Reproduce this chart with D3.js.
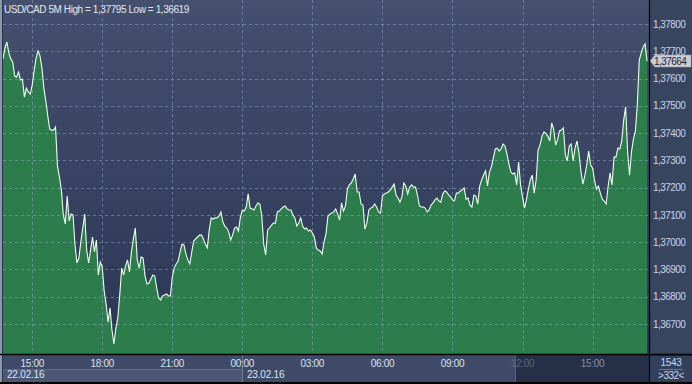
<!DOCTYPE html>
<html><head><meta charset="utf-8">
<script src="https://cdn.jsdelivr.net/npm/d3@7"></script>
<style>
body{margin:0;background:#000;}
svg{display:block;font-family:"Liberation Sans",Arial,sans-serif;}
</style>
</head><body>
<svg id="c" width="692" height="384"></svg>
<script>
// ---------- data ----------
const symbolLabel = "USD/CAD 5M";
const highLabel = "1,37795";
const lowLabel = "1,36619";
const startTime = "2016-02-22T13:45:00";
const barMinutes = 5;
const prices = [
1.37672,1.37712,1.37734,1.37694,1.37672,1.37661,1.37609,1.37606,1.37624,1.37595,
1.37598,1.37532,1.37565,1.37551,1.37543,1.37576,1.37628,1.37675,1.37701,1.37683,
1.37639,1.37565,1.37518,1.37463,1.37415,1.37411,1.37411,1.37422,1.37279,1.37239,
1.37191,1.37100,1.37067,1.37169,1.37078,1.37103,1.37100,1.36990,1.36924,1.36942,
1.37001,1.37052,1.37103,1.36971,1.36924,1.36971,1.37019,1.36964,1.37008,1.36880,
1.36927,1.36909,1.36821,1.36773,1.36707,1.36759,1.36678,1.36627,1.36685,1.36722,
1.36806,1.36905,1.36880,1.36913,1.36935,1.36891,1.36964,1.37012,1.37052,1.36935,
1.36905,1.36946,1.36942,1.36876,1.36847,1.36850,1.36865,1.36880,1.36876,1.36832,
1.36795,1.36788,1.36803,1.36806,1.36810,1.36803,1.36803,1.36872,1.36905,1.36920,
1.36931,1.36964,1.36993,1.36990,1.36957,1.36935,1.36920,1.36964,1.37004,1.37012,
1.37019,1.37026,1.37026,1.37012,1.36993,1.36979,1.37045,1.37089,1.37085,1.37089,
1.37089,1.37096,1.37111,1.37074,1.37059,1.37052,1.37037,1.37008,1.37026,1.37052,
1.37056,1.37041,1.37092,1.37118,1.37114,1.37129,1.37177,1.37125,1.37122,1.37118,
1.37133,1.37144,1.37140,1.37096,1.36993,1.36953,1.37045,1.37052,1.37063,1.37070,
1.37070,1.37111,1.37114,1.37122,1.37129,1.37133,1.37122,1.37118,1.37118,1.37100,
1.37089,1.37059,1.37070,1.37089,1.37059,1.37048,1.37052,1.37041,1.37045,1.37034,
1.37019,1.36979,1.36971,1.36968,1.36957,1.37001,1.37030,1.37096,1.37103,1.37107,
1.37111,1.37122,1.37103,1.37081,1.37144,1.37114,1.37133,1.37195,1.37210,1.37217,
1.37232,1.37250,1.37184,1.37184,1.37140,1.37136,1.37048,1.37070,1.37118,1.37125,
1.37129,1.37140,1.37129,1.37111,1.37107,1.37169,1.37177,1.37180,1.37184,1.37191,
1.37202,1.37213,1.37173,1.37162,1.37147,1.37166,1.37217,1.37206,1.37177,1.37202,
1.37210,1.37202,1.37202,1.37173,1.37133,1.37129,1.37129,1.37125,1.37111,1.37118,
1.37136,1.37144,1.37155,1.37162,1.37151,1.37147,1.37177,1.37188,1.37184,1.37173,
1.37166,1.37155,1.37151,1.37180,1.37180,1.37188,1.37191,1.37199,1.37158,1.37162,
1.37136,1.37129,1.37173,1.37169,1.37140,1.37206,1.37228,1.37246,1.37261,1.37206,
1.37257,1.37276,1.37309,1.37342,1.37345,1.37334,1.37342,1.37360,1.37353,1.37323,
1.37287,1.37257,1.37250,1.37254,1.37210,1.37294,1.37210,1.37166,1.37125,1.37155,
1.37195,1.37228,1.37246,1.37180,1.37228,1.37338,1.37356,1.37389,1.37404,1.37400,
1.37389,1.37371,1.37437,1.37415,1.37356,1.37375,1.37408,1.37411,1.37419,1.37320,
1.37298,1.37353,1.37360,1.37298,1.37345,1.37371,1.37327,1.37261,1.37213,1.37243,
1.37283,1.37334,1.37283,1.37272,1.37228,1.37195,1.37206,1.37180,1.37158,1.37151,
1.37140,1.37206,1.37254,1.37210,1.37312,1.37312,1.37345,1.37342,1.37371,1.37448,
1.37496,1.37331,1.37246,1.37331,1.37378,1.37408,1.37503,1.37668,1.37694,1.37716,
1.37727,1.37664
];
const yTicks = [1.367,1.368,1.369,1.370,1.371,1.372,1.373,1.374,1.375,1.376,1.377,1.378];
const xTickTimes = ["2016-02-22T15:00:00","2016-02-22T18:00:00","2016-02-22T21:00:00","2016-02-23T00:00:00",
  "2016-02-23T03:00:00","2016-02-23T06:00:00","2016-02-23T09:00:00","2016-02-23T12:00:00","2016-02-23T15:00:00"];
const xTickLabels = ["15:00","18:00","21:00","00:00","03:00","06:00","09:00","12:00","15:00"];
const dateLabels = ["22.02.16","23.02.16"];
const dateStarts = ["2016-02-22T13:45:00","2016-02-23T00:00:00"];
const futureFrom = "2016-02-23T11:40:00";
const lastPriceLabel = "1,37664";
const totalBars = "1543";
const visibleBars = ">332<";

// ---------- layout ----------
const W = 692, H = 384;
const plot = {l:3, r:649, t:0, b:354};
const svg = d3.select("#c");
const parse = d3.isoParse;
const t0 = parse(startTime);
const times = prices.map((p,i)=> new Date(t0.getTime() + i*barMinutes*60000));
const data = prices.map((p,i)=>({t:times[i], v:p}));

const x = d3.scaleTime()
  .domain([t0, new Date(t0.getTime() + prices.length*barMinutes*60000)])
  .range([plot.l, plot.r]);
const y = d3.scaleLinear().domain([1.367,1.378]).range([324,24]);
const fmt = v => d3.format(".5f")(v).replace(".", ",");

const defs = svg.append("defs");
const bg = defs.append("linearGradient").attr("id","bg").attr("x1",0).attr("y1",0).attr("x2",0).attr("y2",1);
bg.append("stop").attr("offset","0%").attr("stop-color","#44506e");
bg.append("stop").attr("offset","100%").attr("stop-color","#2b3655");

// plot background
svg.append("rect").attr("x",plot.l).attr("y",0).attr("width",plot.r-plot.l).attr("height",plot.b)
  .attr("fill","url(#bg)");
// right panel
svg.append("rect").attr("x",650).attr("y",0).attr("width",42).attr("height",354).attr("fill","#38455f");

// area
const area = d3.area().x(d=>x(d.t)).y0(plot.b).y1(d=>y(d.v));
svg.append("path").datum(data).attr("d",area).attr("fill","#2c7d4b");

// grid
const grid = svg.append("g");
grid.selectAll(".hg").data(yTicks).join("line")
  .attr("x1",plot.l).attr("x2",plot.r)
  .attr("y1",d=>Math.round(y(d))+0.5).attr("y2",d=>Math.round(y(d))+0.5)
  .attr("stroke","rgba(150,170,205,0.5)").attr("stroke-dasharray","3,3");
grid.selectAll(".vg").data(xTickTimes).join("line")
  .attr("x1",d=>Math.round(x(parse(d)))+0.5).attr("x2",d=>Math.round(x(parse(d)))+0.5)
  .attr("y1",0).attr("y2",plot.b)
  .attr("stroke","rgba(150,170,205,0.5)").attr("stroke-dasharray","3,3");

// line
const line = d3.line().x(d=>x(d.t)).y(d=>y(d.v));
svg.append("path").datum(data).attr("d",line).attr("fill","none")
  .attr("stroke","#ecffec").attr("stroke-width",1.1);

// left border
svg.append("rect").attr("x",0).attr("y",0).attr("width",2).attr("height",382).attr("fill","#8d98ad");
svg.append("rect").attr("x",2).attr("y",0).attr("width",1).attr("height",382).attr("fill","#2a3450");

// title
svg.append("text").attr("x",4).attr("y",12.5).attr("fill","#e2e8f3")
  .style("font-size","10px").style("letter-spacing","-0.42px")
  .text(`${symbolLabel}  High = ${highLabel} Low = ${lowLabel}`);

// y axis labels
svg.append("g").selectAll("text").data(yTicks).join("text")
  .attr("x",653).attr("y",d=>y(d)+3.6)
  .attr("fill","#c6d3ea").style("font-size","10px").style("letter-spacing","-0.55px")
  .text(d=>fmt(d));

// last price tag
const lastY = Math.round(y(prices[prices.length-1]));
svg.append("path")
  .attr("d",`M650,${lastY} L655,${lastY-6} L691,${lastY-6} L691,${lastY+6} L655,${lastY+6} Z`)
  .attr("fill","#c9ccd3").attr("stroke","#9aa0ab").attr("stroke-width",0.5);
svg.append("text").attr("x",654).attr("y",lastY+3.6).attr("fill","#1c2434")
  .style("font-size","10px").style("letter-spacing","-0.55px").text(lastPriceLabel);

// bottom strip
svg.append("rect").attr("x",3).attr("y",355).attr("width",646).attr("height",27).attr("fill","#3e4a67");
const xFuture = Math.round(x(parse(futureFrom)));
svg.append("rect").attr("x",xFuture).attr("y",355).attr("width",649-xFuture).attr("height",27).attr("fill","#262f48");
svg.append("line").attr("x1",xFuture+0.5).attr("x2",xFuture+0.5).attr("y1",355).attr("y2",382).attr("stroke","#58617a");

// date boxes
const xd1 = Math.round(x(parse(dateStarts[1])));
svg.append("rect").attr("x",3).attr("y",369).attr("width",xd1-3).attr("height",13).attr("fill","#4b5775");
svg.append("line").attr("x1",3).attr("x2",xd1).attr("y1",369.5).attr("y2",369.5).attr("stroke","#5f6b88");
svg.append("line").attr("x1",xd1+0.5).attr("x2",xd1+0.5).attr("y1",355).attr("y2",382).attr("stroke","#6c7893");
svg.append("g").selectAll("text").data(dateLabels).join("text")
  .attr("x",(d,i)=> i===0 ? 7 : Math.round(x(parse(dateStarts[i])))+5)
  .attr("y",378).attr("fill","#dde4f0").style("font-size","10px").style("letter-spacing","-0.2px")
  .text(d=>d);

// time labels
svg.append("g").selectAll("text").data(xTickTimes).join("text")
  .attr("x",d=>x(parse(d))).attr("y",367).attr("text-anchor","middle")
  .attr("fill",(d,i)=> parse(d) >= parse(futureFrom) ? (i===7 ? "#5d6880" : "#858fa4") : "#dde4f0")
  .style("font-size","10px").style("letter-spacing","-0.3px")
  .text((d,i)=>xTickLabels[i]);

// axes frame lines
svg.append("line").attr("x1",0).attr("x2",W).attr("y1",354.5).attr("y2",354.5).attr("stroke","#000").attr("stroke-width",1.5);
svg.append("line").attr("x1",649.5).attr("x2",649.5).attr("y1",0).attr("y2",382).attr("stroke","#000").attr("stroke-width",1.2);

// bottom right box
svg.append("rect").attr("x",650).attr("y",355.5).attr("width",42).attr("height",26.5).attr("fill","#33405c");
svg.append("text").attr("x",671).attr("y",366).attr("text-anchor","middle").attr("fill","#c8d4ea")
  .style("font-size","10px").style("letter-spacing","-0.3px").text(totalBars);
svg.append("line").attr("x1",659).attr("x2",683).attr("y1",369.5).attr("y2",369.5).attr("stroke","#6b7792");
svg.append("text").attr("x",671).attr("y",379).attr("text-anchor","middle").attr("fill","#c8d4ea")
  .style("font-size","10px").style("letter-spacing","-0.5px").text(visibleBars);
</script>
</body></html>
